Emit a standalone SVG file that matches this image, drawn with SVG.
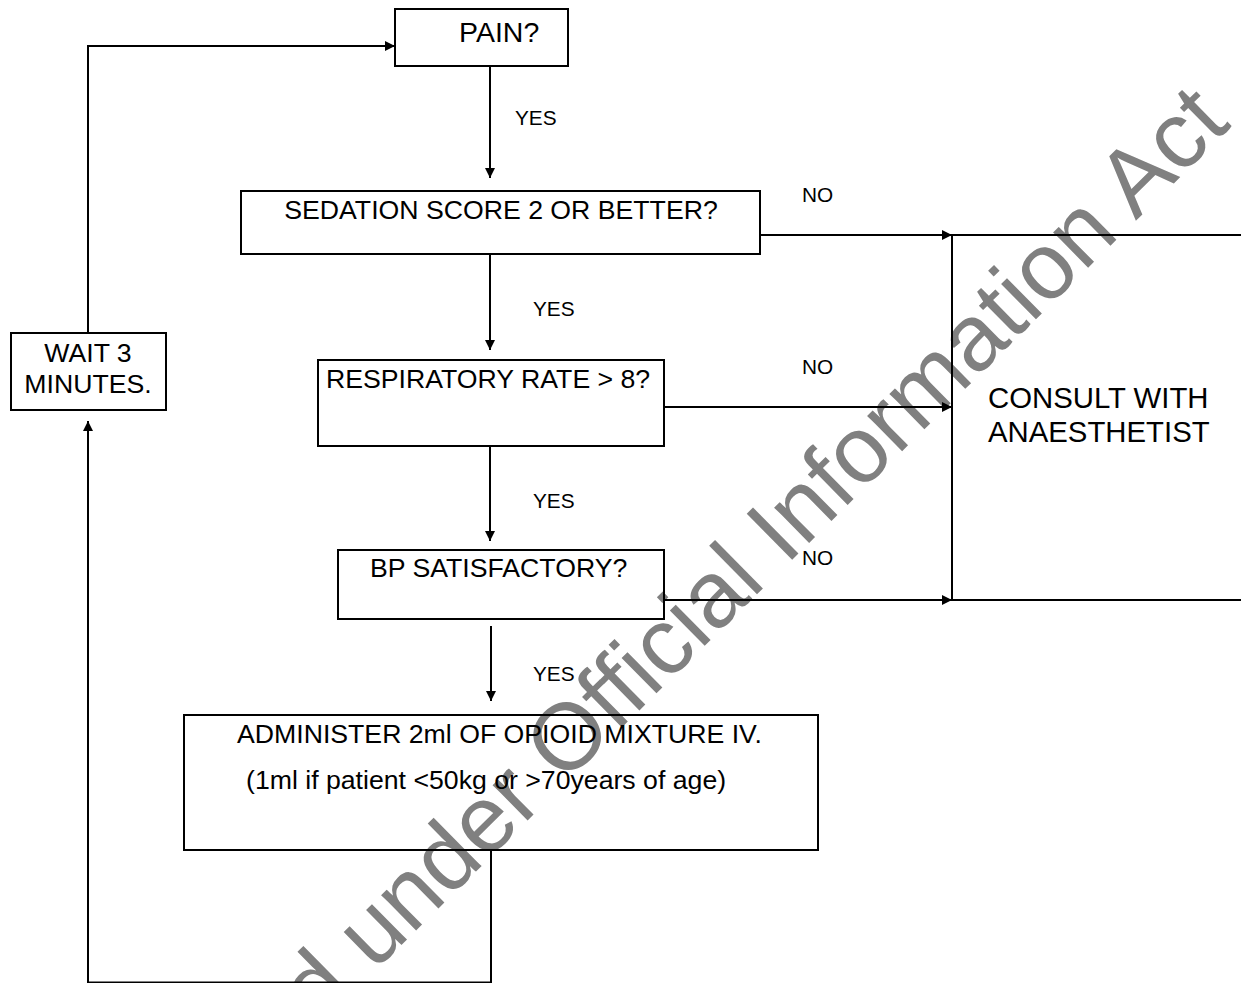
<svg xmlns="http://www.w3.org/2000/svg" width="1241" height="983" viewBox="0 0 1241 983">
<style>
.box{fill:none;stroke:#000;stroke-width:2}
.con{fill:none;stroke:#000;stroke-width:2}
text{font-family:"Liberation Sans",Arial,sans-serif;fill:#000}
.t{font-size:26.67px}
.lbl{font-size:20.8px}
.big{font-size:29.33px}
.wm{font-size:94px;fill:#808080}
</style>
<defs>
<marker id="ah" markerUnits="userSpaceOnUse" markerWidth="10" markerHeight="10" refX="10" refY="5" orient="auto" viewBox="0 0 10 10">
<path d="M0,0 L10,5 L0,10 z" fill="#000"/>
</marker>
</defs>
<rect width="1241" height="983" fill="#fff"/>
<g id="watermark">
<text class="wm" x="-423" y="0" transform="translate(374,972) rotate(-44.6)">Released under Official Information Act</text>
</g>
<g id="connectors">
<path class="con" d="M490,66 V178" marker-end="url(#ah)"/>
<path class="con" d="M490,254 V350" marker-end="url(#ah)"/>
<path class="con" d="M490,446 V541" marker-end="url(#ah)"/>
<path class="con" d="M491,626 V701" marker-end="url(#ah)"/>
<path class="con" d="M760,235 H952" marker-end="url(#ah)"/>
<path class="con" d="M664,407 H952" marker-end="url(#ah)"/>
<path class="con" d="M664,600 H952" marker-end="url(#ah)"/>
<path class="con" d="M491,850 V982.5 H88 V421" marker-end="url(#ah)"/>
<path class="con" d="M88,333 V46 H395" marker-end="url(#ah)"/>
<text class="lbl" x="515" y="125">YES</text>
<text class="lbl" x="533" y="316">YES</text>
<text class="lbl" x="533" y="508">YES</text>
<text class="lbl" x="533" y="681">YES</text>
<text class="lbl" x="802" y="202">NO</text>
<text class="lbl" x="802" y="374">NO</text>
<text class="lbl" x="802" y="565">NO</text>
</g>
<g id="pain">
<rect class="box" x="395" y="9" width="173" height="57"/>
<text x="459" y="42" style="font-size:28.5px">PAIN?</text>
</g>
<g id="sedation">
<rect class="box" x="241" y="191" width="519" height="63"/>
<text class="t" x="501" y="219" text-anchor="middle">SEDATION SCORE 2 OR BETTER?</text>
</g>
<g id="respiratory">
<rect class="box" x="318" y="360" width="346" height="86"/>
<text class="t" x="326" y="388">RESPIRATORY RATE &gt; 8?</text>
</g>
<g id="bp">
<rect class="box" x="338" y="550" width="326" height="69"/>
<text class="t" x="370" y="577">BP SATISFACTORY?</text>
</g>
<g id="administer">
<rect class="box" x="184" y="715" width="634" height="135"/>
<text class="t" x="237" y="743">ADMINISTER 2ml OF OPIOID MIXTURE IV.</text>
<text class="t" x="246" y="789">(1ml if patient &lt;50kg or &gt;70years of age)</text>
</g>
<g id="wait">
<rect class="box" x="11" y="333" width="155" height="77"/>
<text class="t" x="88" y="362" text-anchor="middle">WAIT 3</text>
<text class="t" x="88" y="393" text-anchor="middle">MINUTES.</text>
</g>
<g id="consult">
<path class="box" d="M1242,235 H952 V600 H1242"/>
<text class="big" x="988" y="408">CONSULT WITH</text>
<text class="big" x="988" y="442">ANAESTHETIST</text>
</g>
</svg>
